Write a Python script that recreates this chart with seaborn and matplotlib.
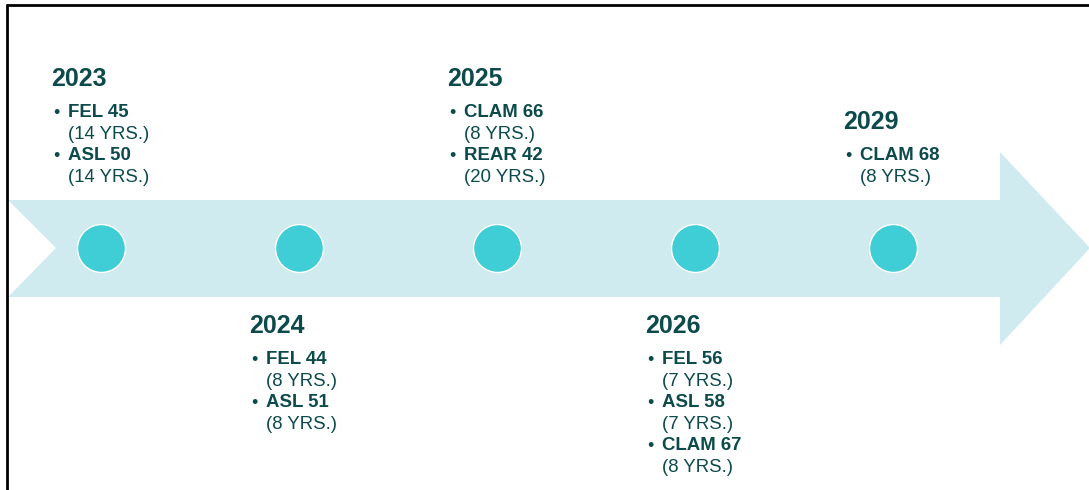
import matplotlib
matplotlib.use("Agg")
import matplotlib.pyplot as plt
from matplotlib.patches import Polygon
from matplotlib.lines import Line2D
import seaborn as sns

# Timeline data
years = ["2023", "2024", "2025", "2026", "2029"]
placement = ["above", "below", "above", "below", "above"]
items = [
    ["FEL 45", "ASL 50"],
    ["FEL 44", "ASL 51"],
    ["CLAM 66", "REAR 42"],
    ["FEL 56", "ASL 58", "CLAM 67"],
    ["CLAM 68"],
]
durations = [
    ["(14 YRS.)", "(14 YRS.)"],
    ["(8 YRS.)", "(8 YRS.)"],
    ["(8 YRS.)", "(20 YRS.)"],
    ["(7 YRS.)", "(7 YRS.)", "(8 YRS.)"],
    ["(8 YRS.)"],
]

band_color = "#CFEBEF"
dot_color = "#3FCDD6"
text_color = "#0C4A4C"

sns.set_style("white")
plt.rcParams["font.family"] = ["Liberation Sans", "DejaVu Sans"]

W, H = 1089, 490
fig = plt.figure(figsize=(W / 100, H / 100), dpi=100)
ax = fig.add_axes([0, 0, 1, 1])

# x in event-index units, y in pixel rows (top = 0)
step = 198.0
x0 = 101.0
def px(p):
    return (p - x0) / step

# arrow band with notched tail
arrow = [(8, 200), (1000, 200), (1000, 152), (1090, 248), (1000, 345),
         (1000, 297), (8, 297), (56, 248)]
ax.add_patch(Polygon([(px(a), b) for a, b in arrow], closed=True,
                     facecolor=band_color, edgecolor="none", zorder=1))

# milestone dots
idx = list(range(len(years)))
sns.scatterplot(x=idx, y=[248] * len(idx), s=1190, color=dot_color,
                edgecolor="white", linewidth=1, zorder=3, ax=ax, legend=False)
ax.set_xlim(px(0), px(W))
ax.set_ylim(H, 0)
ax.axis("off")

# labels
pitch = 21.5
for i, yr in enumerate(years):
    n_lines = 2 * len(items[i])
    if placement[i] == "above":
        first = 181.5 - (n_lines - 1) * pitch
    else:
        first = 364
    xl = px(x0 + step * i - 50)
    xb = px(x0 + step * i - 48)
    xt = px(x0 + step * i - 33)
    ax.text(xl, first - 31, yr, fontsize=18, fontweight="bold",
            color=text_color, va="baseline", ha="left")
    for j, (it, du) in enumerate(zip(items[i], durations[i])):
        yb = first + 2 * j * pitch
        ax.text(xb, yb + 1, "•", fontsize=13, color=text_color,
                va="baseline", ha="left")
        ax.text(xt, yb, it, fontsize=13.4, fontweight="bold",
                color=text_color, va="baseline", ha="left")
        ax.text(xt, yb + pitch, du, fontsize=13.4, color=text_color,
                va="baseline", ha="left")

# frame lines on left and top
fig.add_artist(Line2D([7 / W, 7 / W], [0, 1 - 5 / H], color="black",
                      linewidth=2, transform=fig.transFigure))
fig.add_artist(Line2D([7 / W, 1], [1 - 5 / H, 1 - 5 / H], color="black",
                      linewidth=2, transform=fig.transFigure))

fig.savefig("out.png", dpi=100, facecolor="white")
